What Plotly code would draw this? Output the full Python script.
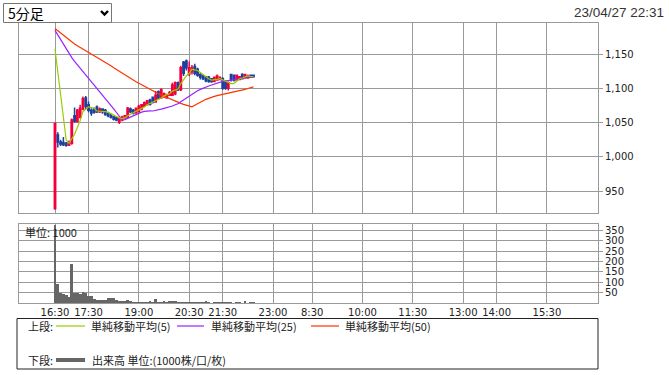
import plotly.graph_objects as go

W, H = 669, 375

# ---------------- data ----------------
tick_positions = [0, 12, 30, 48, 60, 78, 92, 110, 128, 146, 158, 176]
tick_labels = ["16:30", "17:30", "19:00", "20:30", "21:30", "23:00",
               "8:30", "10:00", "11:30", "13:00", "14:00", "15:30"]

opens = [925, 1032, 1022, 1021, 1020, 1017, 1020, 1060, 1052, 1058,
         1070, 1086, 1076, 1068, 1070, 1073, 1066, 1070, 1068, 1064,
         1062, 1059, 1057, 1051, 1054, 1056, 1058, 1070, 1068, 1064,
         1066, 1070, 1074, 1076, 1083, 1087, 1080, 1095, 1086, 1088,
         1086, 1090, 1090, 1092, 1108, 1098, 1138, 1140, 1121, 1124,
         1132, 1128, 1120, 1118, 1117, 1116, 1114, 1110, 1112, 1113,
         1114, 1110, 1100, 1120, 1119, 1112, 1113, 1120, 1115, 1115,
         1119, 1119]
highs = [1050, 1036, 1025, 1029, 1022, 1024, 1056, 1072, 1070, 1076,
         1088, 1089, 1081, 1071, 1072, 1075, 1072, 1071, 1070, 1066,
         1063, 1060, 1058, 1057, 1060, 1061, 1073, 1072, 1070, 1072,
         1076, 1077, 1081, 1083, 1085, 1088, 1096, 1097, 1100, 1094,
         1092, 1096, 1108, 1110, 1110, 1133, 1140, 1142, 1139, 1134,
         1136, 1130, 1122, 1120, 1118, 1118, 1115, 1117, 1120, 1117,
         1116, 1112, 1110, 1121, 1120, 1120, 1118, 1122, 1121, 1120,
         1120, 1120]
lows = [923, 1014, 1016, 1016, 1015, 1016, 1018, 1050, 1050, 1056,
        1068, 1070, 1065, 1060, 1063, 1064, 1064, 1063, 1060, 1058,
        1056, 1053, 1052, 1048, 1052, 1055, 1057, 1064, 1062, 1063,
        1065, 1068, 1073, 1075, 1075, 1078, 1079, 1084, 1085, 1086,
        1085, 1089, 1089, 1090, 1096, 1096, 1118, 1126, 1118, 1120,
        1119, 1117, 1113, 1112, 1109, 1108, 1108, 1109, 1111, 1112,
        1098, 1098, 1097, 1110, 1110, 1111, 1112, 1113, 1114, 1114,
        1115, 1116]
closes = [1049, 1022, 1019, 1018, 1017, 1022, 1054, 1052, 1068, 1071,
          1085, 1074, 1068, 1064, 1065, 1066, 1070, 1066, 1062, 1060,
          1058, 1055, 1054, 1056, 1058, 1060, 1071, 1066, 1064, 1071,
          1074, 1076, 1079, 1082, 1077, 1080, 1090, 1086, 1098, 1092,
          1090, 1094, 1105, 1108, 1098, 1130, 1122, 1130, 1130, 1130,
          1122, 1119, 1116, 1114, 1111, 1110, 1110, 1116, 1118, 1116,
          1100, 1100, 1108, 1113, 1112, 1119, 1117, 1114, 1120, 1118,
          1116, 1117]

ma5 = [1157, 1125, 1092, 1059, 1025, 1020, 1026, 1033, 1043, 1053,
       1066, 1070, 1073, 1072, 1071, 1067, 1067, 1066, 1066, 1065,
       1063, 1060, 1058, 1057, 1056, 1057, 1060, 1062, 1064, 1066,
       1069, 1070, 1073, 1076, 1078, 1079, 1082, 1083, 1086, 1089,
       1091, 1092, 1096, 1098, 1099, 1107, 1113, 1118, 1122, 1128,
       1127, 1126, 1123, 1120, 1116, 1114, 1112, 1112, 1113, 1114,
       1112, 1110, 1108, 1107, 1107, 1110, 1114, 1115, 1116, 1118,
       1117, 1117]
ma25 = [1184.4, 1177.6, 1170.8, 1163.9, 1157.0, 1150.3, 1144.8, 1139.3, 1134.4, 1129.7,
        1125.5, 1120.8, 1116.0, 1110.9, 1105.9, 1101.0, 1096.2, 1091.2, 1086.1, 1080.9,
        1075.6, 1070.2, 1064.8, 1059.4, 1054.1, 1054.5, 1056.5, 1058.4, 1060.2, 1062.4,
        1064.4, 1065.3, 1066.4, 1067.0, 1067.2, 1067.0, 1067.6, 1068.4, 1069.7, 1070.8,
        1071.8, 1072.7, 1074.3, 1076.1, 1077.6, 1080.5, 1083.2, 1086.3, 1089.2, 1092.1,
        1094.6, 1096.5, 1098.5, 1100.5, 1102.1, 1103.5, 1104.9, 1106.4, 1107.8, 1109.4,
        1110.2, 1110.6, 1111.5, 1112.1, 1112.9, 1114.0, 1115.0, 1115.3, 1115.8, 1116.6,
        1116.0, 1115.8]
ma50 = [1187.2, 1183.8, 1180.4, 1177.0, 1173.5, 1170.1, 1167.4, 1164.7, 1162.2, 1159.8,
        1157.7, 1155.4, 1153.0, 1150.5, 1148.0, 1145.5, 1143.1, 1140.6, 1138.0, 1135.4,
        1132.8, 1130.1, 1127.4, 1124.7, 1122.1, 1119.5, 1117.1, 1114.6, 1112.1, 1109.7,
        1107.4, 1105.1, 1102.9, 1100.7, 1098.5, 1096.3, 1094.3, 1092.2, 1090.3, 1088.4,
        1086.4, 1084.5, 1082.8, 1081.1, 1079.3, 1078.1, 1076.7, 1075.5, 1074.3, 1073.1,
        1075.5, 1078.0, 1080.0, 1082.0, 1084.0, 1085.8, 1087.0, 1088.3, 1089.4, 1090.3,
        1090.8, 1091.4, 1092.3, 1093.3, 1094.3, 1095.4, 1096.4, 1097.4, 1098.6, 1099.8,
        1100.9, 1102.2]

volume = [375, 92, 48, 45, 38, 30, 190, 50, 46, 44,
          52, 48, 36, 33, 20, 15, 13, 14, 14, 22,
          24, 22, 16, 8, 8, 12, 13, 11, 6, 6,
          5, 6, 5, 5, 12, 5, 20, 5, 4, 8,
          5, 8, 10, 10, 6, 5, 5, 3, 5, 4,
          3, 5, 5, 6, 10, 4, 2, 4, 4, 3,
          3, 5, 3, 6, 2, 4, 3, 2, 8, 2,
          3, 4]

price_ticks = [950, 1000, 1050, 1100, 1150]
volume_ticks = [50, 100, 150, 200, 250, 300, 350]

x = list(range(len(closes)))

# ---------------- style ----------------
RED = "#f2003c"
BLUE = "#1f3f9f"
C_MA5 = "#99cc00"
C_MA25 = "#9922ff"
C_MA50 = "#ff3300"
GRID = "#9a9a9a"
TXT = "#222222"
TICKFONT = dict(family="DejaVu Sans", size=10, color=TXT)
CJK = "Noto Sans CJK JP"


def px(v):
    return v / W


def py(v):
    return 1 - v / H


xr = [-12.88, 194.27]
xdom = [px(19), px(598)]

fig = go.Figure()
fig.add_trace(go.Candlestick(
    x=x, open=opens, high=highs, low=lows, close=closes,
    increasing=dict(line=dict(color=RED, width=1.5), fillcolor=RED),
    decreasing=dict(line=dict(color=BLUE, width=1.5), fillcolor=BLUE),
    whiskerwidth=0, xaxis="x", yaxis="y", showlegend=False))
for vals, col in [(ma50, C_MA50), (ma25, C_MA25), (ma5, C_MA5)]:
    fig.add_trace(go.Scatter(x=x, y=vals, mode="lines",
                             line=dict(color=col, width=1.2),
                             xaxis="x", yaxis="y", showlegend=False))
fig.add_trace(go.Bar(x=x, y=volume, marker=dict(color="#666666", line=dict(width=0)),
                     width=1.0, xaxis="x2", yaxis="y2", showlegend=False))

axis_common = dict(showgrid=True, gridcolor=GRID, gridwidth=1, showline=True,
                   linecolor=GRID, linewidth=1, mirror=True, zeroline=False,
                   automargin=False, fixedrange=True)

fig.update_layout(
    width=W, height=H, margin=dict(l=0, r=0, t=0, b=0),
    paper_bgcolor="white", plot_bgcolor="white",
    bargap=0, showlegend=False,
    xaxis=dict(domain=xdom, range=xr, anchor="y", tickvals=tick_positions,
               showticklabels=False, ticks="", rangeslider=dict(visible=False),
               **axis_common),
    yaxis=dict(domain=[py(213), py(23)], range=[918.4, 1195.2], anchor="x",
               side="right", tickvals=price_ticks, tickformat=",",
               ticks="outside", ticklen=4, tickcolor=GRID, tickfont=TICKFONT,
               **axis_common),
    xaxis2=dict(domain=xdom, range=xr, anchor="y2", tickvals=tick_positions,
                ticktext=tick_labels, ticks="", tickangle=0, tickfont=TICKFONT,
                **axis_common),
    yaxis2=dict(domain=[py(303), py(224)], range=[0, 382], anchor="x2",
                side="right", tickvals=volume_ticks,
                ticks="outside", ticklen=4, tickcolor=GRID,
                tickfont=TICKFONT, **axis_common),
)

shapes = []
annotations = []

# dropdown box
shapes.append(dict(type="rect", xref="paper", yref="paper",
                   x0=px(3.5), x1=px(111.5), y0=py(22.5), y1=py(3.5),
                   line=dict(color="#767676", width=1), fillcolor="white"))
shapes.append(dict(type="path", xref="paper", yref="paper",
                   path=f"M {px(101)},{py(11)} L {px(104.5)},{py(14.5)} L {px(108)},{py(11)}",
                   line=dict(color="black", width=2.4)))
annotations.append(dict(text="5分足", xref="paper", yref="paper", x=px(6), y=py(13),
                        xanchor="left", yanchor="middle", showarrow=False,
                        font=dict(family=CJK, size=14, color="black")))
# date
annotations.append(dict(text="23/04/27 22:31", xref="paper", yref="paper",
                        x=px(666), y=py(12.5), xanchor="right", yanchor="middle",
                        showarrow=False,
                        font=dict(family="Liberation Sans", size=13.5, color="#333333")))
# volume unit label
annotations.append(dict(text="単位: 1000", xref="paper", yref="paper",
                        x=px(23), y=py(232), xanchor="left", yanchor="middle",
                        showarrow=False, font=dict(family=CJK, size=11, color=TXT)))

# legend box
shapes.append(dict(type="rect", xref="paper", yref="paper",
                   x0=px(17), x1=px(598), y0=py(369), y1=py(318.5),
                   line=dict(color="#222222", width=1)))
legend_rows = [
    (326, "上段:", [(56, 85, C_MA5, 1.2, 89, "単純移動平均(5)"),
                   (177, 204, C_MA25, 1.2, 209, "単純移動平均(25)"),
                   (311, 339, C_MA50, 1.2, 343, "単純移動平均(50)")]),
    (360, "下段:", [(56, 85, "#666666", 4, 90, "出来高 単位:(1000株/口/枚)")]),
]
for yy, head, items in legend_rows:
    annotations.append(dict(text=head, xref="paper", yref="paper", x=px(26), y=py(yy),
                            xanchor="left", yanchor="middle", showarrow=False,
                            font=dict(family=CJK, size=11, color=TXT)))
    for x0, x1, col, lw, tx, label in items:
        shapes.append(dict(type="line", xref="paper", yref="paper",
                           x0=px(x0), x1=px(x1), y0=py(yy), y1=py(yy),
                           line=dict(color=col, width=lw)))
        annotations.append(dict(text=label, xref="paper", yref="paper", x=px(tx), y=py(yy),
                                xanchor="left", yanchor="middle", showarrow=False,
                                font=dict(family=CJK, size=11, color=TXT)))

fig.update_layout(shapes=shapes, annotations=annotations)
fig.write_html("out.html",
               config={"displayModeBar": False, "staticPlot": True},
               post_script="document.body.style.margin='0';document.body.style.overflow='hidden';")
